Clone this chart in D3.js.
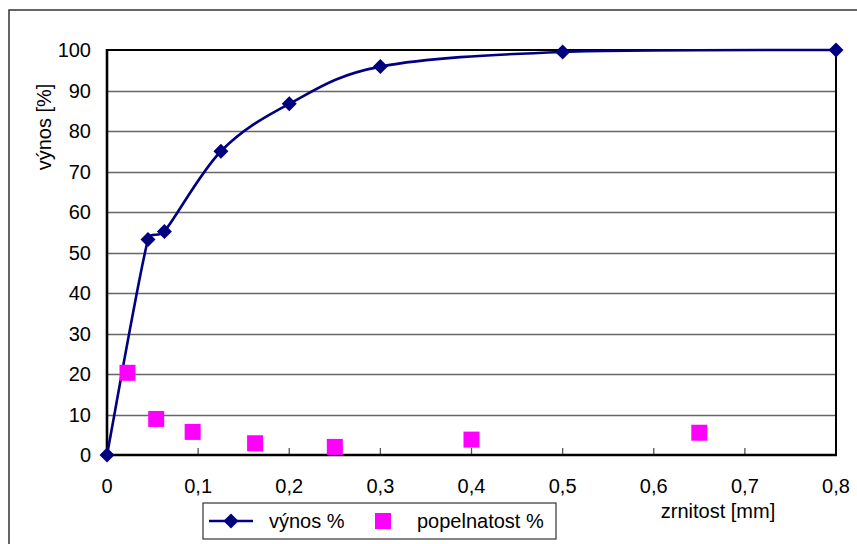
<!DOCTYPE html>
<html>
<head>
<meta charset="utf-8">
<script src="https://cdn.jsdelivr.net/npm/d3@7"></script>
<style>
  html, body { margin: 0; padding: 0; background: #fff; }
  svg { display: block; font-family: "Liberation Sans", Arial, sans-serif; }
</style>
</head>
<body>
<svg id="chart" width="857" height="544"></svg>
<script>
// ---- data ----
const vynosX = [0, 0.045, 0.063, 0.125, 0.2, 0.3, 0.5, 0.8];
const vynosY = [0, 53.2, 55.2, 75.0, 86.7, 95.9, 99.5, 100];
const popelX = [0.0225, 0.054, 0.094, 0.1625, 0.25, 0.4, 0.65];
const popelY = [20.3, 8.9, 5.7, 2.9, 2.0, 3.8, 5.5];
const xTicks = [0, 0.1, 0.2, 0.3, 0.4, 0.5, 0.6, 0.7, 0.8];
const yTicks = [0, 10, 20, 30, 40, 50, 60, 70, 80, 90, 100];
const seriesNames = ["výnos %", "popelnatost %"];
const xTitle = "zrnitost [mm]";
const yTitle = "výnos [%]";

// ---- layout ----
const svg = d3.select("#chart");
const L = 107, R = 836, T = 50, B = 455;
const x = d3.scaleLinear().domain([0, 0.8]).range([L, R]);
const y = d3.scaleLinear().domain([0, 100]).range([B, T]);
const fmt = d => d === 0 ? "0" : d3.format(".1f")(d).replace(".", ",");
const FS = 20;

// outer chart frame
svg.append("rect").attr("x", 9).attr("y", 10).attr("width", 900).attr("height", 600)
  .attr("fill", "none").attr("stroke", "#333").attr("stroke-width", 1.5);

// gridlines
svg.append("g").selectAll("line").data(yTicks.filter(d => d > 0 && d < 100)).join("line")
  .attr("x1", L).attr("x2", R)
  .attr("y1", d => Math.round(y(d)) + 0.5).attr("y2", d => Math.round(y(d)) + 0.5)
  .attr("stroke", "#666").attr("stroke-width", 1.4);

// x ticks (inward)
svg.append("g").selectAll("line").data(xTicks.filter(d => d > 0 && d < 0.8)).join("line")
  .attr("x1", d => x(d)).attr("x2", d => x(d))
  .attr("y1", B).attr("y2", B - 7)
  .attr("stroke", "#555").attr("stroke-width", 1.3);

// plot frame: top & right
svg.append("line").attr("x1", L).attr("x2", R).attr("y1", T).attr("y2", T)
  .attr("stroke", "#000").attr("stroke-width", 2);
svg.append("line").attr("x1", R).attr("x2", R).attr("y1", T).attr("y2", B)
  .attr("stroke", "#000").attr("stroke-width", 2);
// axes lines
svg.append("line").attr("x1", L).attr("x2", R + 1).attr("y1", B).attr("y2", B)
  .attr("stroke", "#000").attr("stroke-width", 2.6);
svg.append("line").attr("x1", L).attr("x2", L).attr("y1", T - 1).attr("y2", B)
  .attr("stroke", "#000").attr("stroke-width", 2.6);

// y tick labels
svg.append("g").selectAll("text").data(yTicks).join("text")
  .attr("x", 91).attr("y", d => y(d)).attr("dy", "0.36em")
  .attr("text-anchor", "end").attr("font-size", FS).attr("fill", "#000")
  .text(d => d);

// x tick labels
svg.append("g").selectAll("text").data(xTicks).join("text")
  .attr("x", d => x(d)).attr("y", 493)
  .attr("text-anchor", "middle").attr("font-size", FS).attr("fill", "#000")
  .text(fmt);

// axis titles
svg.append("text").attr("transform", "translate(51,127) rotate(-90)")
  .attr("text-anchor", "middle").attr("font-size", FS).text(yTitle);
svg.append("text").attr("x", 718).attr("y", 518)
  .attr("text-anchor", "middle").attr("font-size", FS).text(xTitle);

// výnos line — spreadsheet-style smoothing (Bezier, tangent 1/6, capped at half segment)
const vData = vynosX.map((d, i) => [d, vynosY[i]]);
function smoothPath(pts) {
  const p = d3.path();
  const n = pts.length;
  const dist = (a, b) => Math.hypot(b[0] - a[0], b[1] - a[1]);
  p.moveTo(pts[0][0], pts[0][1]);
  for (let i = 0; i < n - 1; i++) {
    const P0 = pts[Math.max(i - 1, 0)], P1 = pts[i], P2 = pts[i + 1], P3 = pts[Math.min(i + 2, n - 1)];
    const d12 = dist(P1, P2);
    const d02 = dist(P0, P2), d13 = dist(P1, P3);
    let f1 = 1 / 6, f2 = 1 / 6;
    if (d02 * f1 > d12 / 2) f1 = d12 / 2 / d02;
    if (d13 * f2 > d12 / 2) f2 = d12 / 2 / d13;
    const c1 = [P1[0] + (P2[0] - P0[0]) * f1, P1[1] + (P2[1] - P0[1]) * f1];
    const c2 = [P2[0] - (P3[0] - P1[0]) * f2, P2[1] - (P3[1] - P1[1]) * f2];
    p.bezierCurveTo(c1[0], c1[1], c2[0], c2[1], P2[0], P2[1]);
  }
  return p.toString();
}
svg.append("path").attr("d", smoothPath(vData.map(d => [x(d[0]), y(d[1])])))
  .attr("fill", "none").attr("stroke", "#000080").attr("stroke-width", 2.6);

const diamond = (cx, cy, r) => `M${cx},${cy - r}L${cx + r},${cy}L${cx},${cy + r}L${cx - r},${cy}Z`;
svg.append("g").selectAll("path").data(vData).join("path")
  .attr("d", d => diamond(x(d[0]), y(d[1]), 7.5))
  .attr("fill", "#000080");

// popelnatost squares
const pData = popelX.map((d, i) => [d, popelY[i]]);
svg.append("g").selectAll("rect").data(pData).join("rect")
  .attr("x", d => x(d[0]) - 8).attr("y", d => y(d[1]) - 8)
  .attr("width", 16).attr("height", 16).attr("fill", "#FF00FF");

// legend
const lg = svg.append("g");
lg.append("rect").attr("x", 203).attr("y", 503).attr("width", 353).attr("height", 36)
  .attr("fill", "#fff").attr("stroke", "#333").attr("stroke-width", 1.2);
lg.append("line").attr("x1", 209).attr("x2", 253).attr("y1", 521).attr("y2", 521)
  .attr("stroke", "#000080").attr("stroke-width", 2.6);
lg.append("path").attr("d", diamond(231, 521, 7.5)).attr("fill", "#000080");
lg.append("text").attr("x", 269).attr("y", 527.5).attr("font-size", FS).text(seriesNames[0]);
lg.append("rect").attr("x", 375).attr("y", 513).attr("width", 16).attr("height", 16).attr("fill", "#FF00FF");
lg.append("text").attr("x", 417).attr("y", 527.5).attr("font-size", FS).text(seriesNames[1]);
</script>
</body>
</html>
